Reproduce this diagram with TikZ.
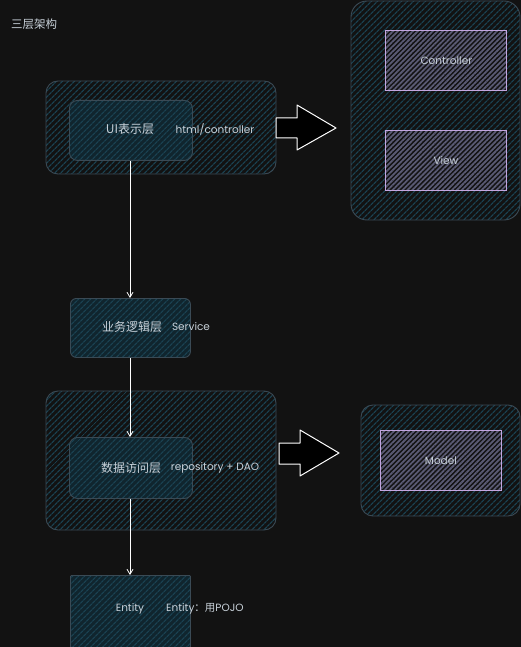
\documentclass[tikz,border=0pt]{standalone}
\usepackage{fontspec}
\setmainfont{Poppins}
\newfontfamily\cjk{Noto Sans CJK SC}
\usetikzlibrary{patterns.meta,arrows.meta}
\definecolor{bg}{HTML}{121212}
\definecolor{boxline}{HTML}{3A4A55}
\definecolor{hatch}{HTML}{1A4252}
\definecolor{innerfill}{HTML}{10252E}
\definecolor{purp}{HTML}{C3A6E0}
\definecolor{phatch}{HTML}{5A5A74}
\definecolor{txt}{HTML}{C9D2DA}
\tikzset{
  outerbox/.style={draw=boxline, line width=0.9pt, rounded corners=12pt,
    preaction={fill=bg}, pattern={Lines[angle=45,distance=4pt,line width=1.3pt]}, pattern color=hatch},
  innerbox/.style={draw=boxline, line width=0.9pt, rounded corners=8pt,
    preaction={fill=innerfill}, pattern={Lines[angle=45,distance=4pt,line width=1.3pt]}, pattern color=hatch},
  sqbox/.style={draw=boxline, line width=0.9pt, rounded corners=2pt,
    preaction={fill=innerfill}, pattern={Lines[angle=45,distance=4pt,line width=1.3pt]}, pattern color=hatch},
  mvcbox/.style={draw=purp, line width=0.9pt,
    preaction={fill=bg}, pattern={Lines[angle=45,distance=3.5pt,line width=1.8pt]}, pattern color=phatch},
  lbl/.style={text=txt, font=\fontsize{10.5}{12}\selectfont, inner sep=0pt},
  clbl/.style={text=txt, font=\cjk\fontsize{12}{14}\selectfont, inner sep=0pt},
  flow/.style={draw=white, line width=0.8pt, -{Straight Barb[length=5pt,width=6pt]}},
  bigarrow/.style={draw=white, fill=black, line width=1pt, line join=round}
}
\begin{document}
\begin{tikzpicture}[x=1pt,y=-1pt]
\fill[bg] (0,0) rectangle (521,647);
\useasboundingbox (0,0) rectangle (521,647);
\node[text=txt, font=\cjk\fontsize{11.5}{13}\selectfont, anchor=west, inner sep=0pt] (title) at (11,24) {三层架构};
% UI layer
\path[outerbox] (46,81) rectangle (276,174);
\node[innerbox, minimum width=123pt, minimum height=60pt, anchor=north west] (ui) at (69,100) {};
\node[clbl] (uit) at (130,129) {UI表示层};
\node[lbl] (uih) at (215,129) {html/controller};
% big arrow 1
\coordinate (a1) at (276,128);
\draw[bigarrow] (a1) ++(0,-10) -- ++(21,0) -- ++(0,-13) -- (336,128) -- (297,150) -- ++(0,-12) -- ++(-21,0) -- cycle;
% MVC
\path[outerbox, rounded corners=16pt] (351,1) rectangle (520,220);
\node[mvcbox, minimum width=121pt, minimum height=60pt, anchor=north west] (ctrl) at (385,30) {};
\node[lbl] at (ctrl.center) {Controller};
\node[mvcbox, minimum width=121pt, minimum height=60pt, anchor=north west] (view) at (385,130) {};
\node[lbl] at (view.center) {View};
% service
\node[sqbox, rounded corners=6pt, minimum width=120pt, minimum height=59pt, anchor=north west] (svc) at (70,298) {};
\node[clbl] (svct) at (132,327) {业务逻辑层};
\node[lbl] (svch) at (191,327) {Service};
% DAO layer
\path[outerbox] (46,391) rectangle (276,530);
\node[innerbox, minimum width=123pt, minimum height=61pt, anchor=north west] (dao) at (69,437) {};
\node[clbl] (daot) at (131,468) {数据访问层};
\node[lbl] (daoh) at (215,468) {repository + DAO};
% big arrow 2
\coordinate (a2) at (279,453);
\draw[bigarrow] (a2) ++(0,-10) -- ++(21,0) -- ++(0,-13) -- (339,453) -- (300,476) -- ++(0,-12) -- ++(-21,0) -- cycle;
% Model
\path[outerbox] (361,405) rectangle (520,516);
\node[mvcbox, minimum width=121pt, minimum height=60pt, anchor=north west] (model) at (380,430) {};
\node[lbl] at (model.center) {Model};
% entity
\node[sqbox, rounded corners=1pt, minimum width=120pt, minimum height=72pt, anchor=north west] (ent) at (70,575) {};
\node[lbl] (entt) at (130,609) {Entity};
\node[lbl, anchor=west] (enth) at (166,609) {Entity{\cjk ：用}POJO};
% flows
\draw[flow] (ui.south -| 130,0) -- (svc.north -| 130,0);
\draw[flow] (svc.south -| 130,0) -- (dao.north -| 130,0);
\draw[flow] (dao.south -| 130,0) -- (ent.north -| 130,0);
\end{tikzpicture}
\end{document}
